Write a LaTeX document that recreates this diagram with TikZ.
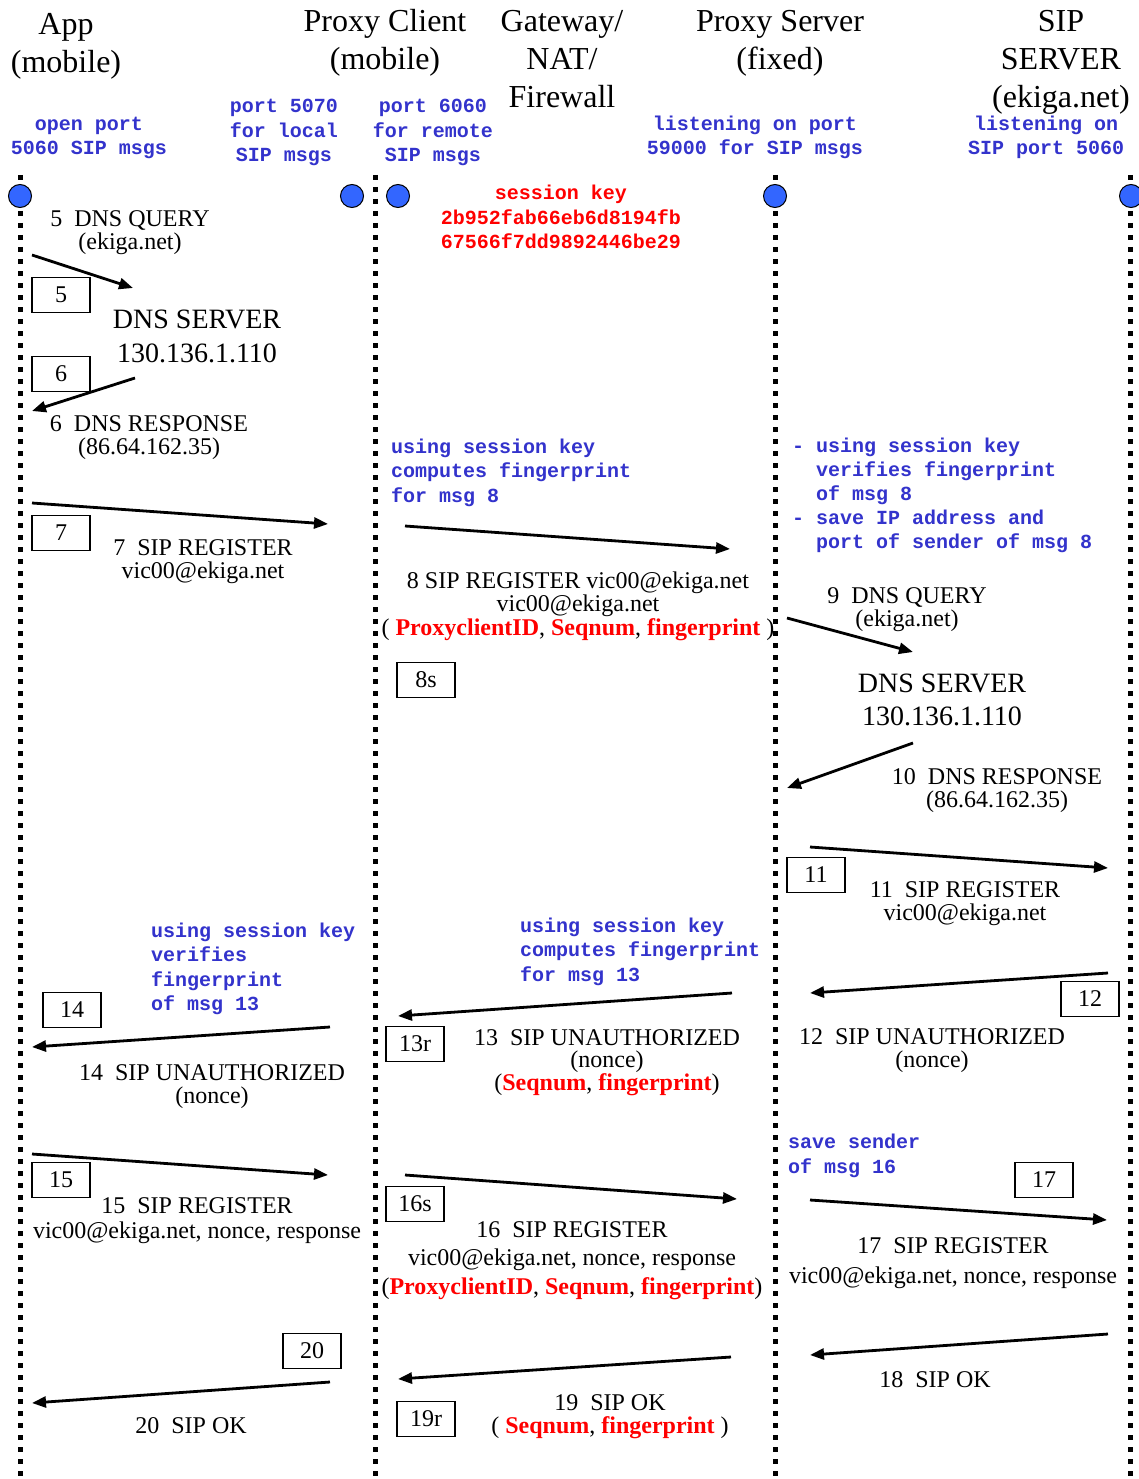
\documentclass[tikz,border=0pt]{standalone}
\usepackage{fontspec}
\setmainfont{Liberation Serif}
\setmonofont{Liberation Mono}
\usetikzlibrary{arrows.meta}
\definecolor{noteblue}{RGB}{51,51,204}
\definecolor{portblue}{RGB}{51,102,255}
\definecolor{keyred}{RGB}{255,0,0}
\newcommand{\rb}[1]{\textcolor{keyred}{\textbf{#1}}}
\newcommand{\ind}{\phantom{- }}
\begin{document}
\begin{tikzpicture}[x=1pt,y=-1pt,
  hdr/.style={font=\fontsize{32}{38}\selectfont, align=center, inner sep=0pt, anchor=base},
  msg/.style={font=\fontsize{24}{#1}\selectfont, align=center, inner sep=0pt, anchor=base},
  msg/.default=22.5,
  dnsbig/.style={font=\fontsize{28}{#1}\selectfont, align=center, inner sep=0pt, anchor=base},
  note/.style={font=\fontsize{20}{#1}\ttfamily\bfseries\selectfont, text=noteblue, align=left, inner sep=0pt, anchor=base west},
  note/.default=24.5,
  cnote/.style={font=\fontsize{20}{24.5}\ttfamily\bfseries\selectfont, text=noteblue, align=center, inner sep=0pt, anchor=base},
  keynote/.style={font=\fontsize{20}{24}\ttfamily\bfseries\selectfont, text=keyred, align=center, inner sep=0pt, anchor=base},
  life/.style={line width=5pt, dash pattern=on 5pt off 7pt},
  port/.style={circle, draw=black, line width=1pt, fill=portblue, minimum size=23pt, inner sep=0pt},
  nbox/.style={draw, line width=1.3pt, minimum width=58pt, minimum height=35pt, inner sep=0pt, font=\fontsize{24}{24}\selectfont},
  arr/.style={line width=2.8pt, -{Triangle[length=14pt, width=11pt]}}
]
\fill[white] (0,0) rectangle (1139,1479);
\useasboundingbox (0,0) rectangle (1139,1479);

% lifelines
\foreach \n/\x in {app/20, pc/375, ps/775, sip/1130} {
  \coordinate (\n top) at (\x,175);
  \coordinate (\n bot) at (\x,1479);
  \draw[life] (\n top) -- (\n bot);
}
% ports
\node[port] (portapp) at (20,196) {};
\node[port] (portpcl) at (352,196) {};
\node[port] (portpcr) at (398,196) {};
\node[port] (portps) at (775,196) {};
\node[port] (portsip) at (1131,196) {};

% headers (y = baseline of last line)
\node[hdr] (hApp) at (66,73) {App\\(mobile)};
\node[hdr] (hPC) at (385,70) {Proxy Client\\(mobile)};
\node[hdr] (hGW) at (562,108) {Gateway/\\NAT/\\Firewall};
\node[hdr] (hPS) at (780,70) {Proxy Server\\(fixed)};
\node[hdr] (hSIP) at (1061,108) {SIP\\SERVER\\(ekiga.net)};

% port notes
\node[cnote] (nOpen) at (89,155) {open port\\5060 SIP msgs};
\node[cnote] (n5070) at (284,162) {port 5070\\for local\\SIP msgs};
\node[cnote] (n6060) at (433,162) {port 6060\\for remote\\SIP msgs};
\node[cnote] (nListen) at (755,155) {listening on port\\59000 for SIP msgs};
\node[cnote] (nSipListen) at (1046,155) {listening on\\SIP port 5060};
\node[keynote] (nKey) at (561,248) {session key\\2b952fab66eb6d8194fb\\67566f7dd9892446be29};

% message labels
\node[msg=22.5] (m5) at (130,249) {5~ DNS QUERY\\(ekiga.net)};
\node[dnsbig=34] (dns1) at (197,362) {DNS SERVER\\130.136.1.110};
\node[msg=22.5] (m6) at (149,454) {6~ DNS RESPONSE\\(86.64.162.35)};
\node[msg=23] (m7) at (203,578) {7~ SIP REGISTER\\vic00@ekiga.net};
\node[note] (nComp8) at (391,502) {using session key\\computes fingerprint\\for msg 8};
\node[msg=23.5] (m8) at (578,635) {8 SIP REGISTER vic00@ekiga.net\\vic00@ekiga.net\\( \rb{ProxyclientID}, \rb{Seqnum}, \rb{fingerprint} )};
\node[note=24] (nVer8) at (792,548) {- using session key\\\ind verifies fingerprint\\\ind of msg 8\\- save IP address and\\\ind port of sender of msg 8};
\node[msg=22.5] (m9) at (907,626) {9~ DNS QUERY\\(ekiga.net)};
\node[dnsbig=33] (dns2) at (942,725) {DNS SERVER\\130.136.1.110};
\node[msg=23] (m10) at (997,807) {10~ DNS RESPONSE\\(86.64.162.35)};
\node[msg=23] (m11) at (965,920) {11~ SIP REGISTER\\vic00@ekiga.net};
\node[note] (nVer13) at (151,1010.5) {using session key\\verifies\\fingerprint\\of msg 13};
\node[note] (nComp13) at (520,981) {using session key\\computes fingerprint\\for msg 13};
\node[msg=23] (m12) at (932,1067) {12~ SIP UNAUTHORIZED\\(nonce)};
\node[msg=22.5] (m13) at (607,1090) {13~ SIP UNAUTHORIZED\\(nonce)\\(\rb{Seqnum}, \rb{fingerprint})};
\node[msg=22.5] (m14) at (212,1103) {14~ SIP UNAUTHORIZED\\(nonce)};
\node[note=25] (nSave16) at (788,1173) {save sender\\of msg 16};
\node[msg=25] (m15) at (197,1238) {15~ SIP REGISTER\\vic00@ekiga.net, nonce, response};
\node[msg=28.5] (m16) at (572,1294) {16~ SIP REGISTER\\vic00@ekiga.net, nonce, response\\(\rb{ProxyclientID}, \rb{Seqnum}, \rb{fingerprint})};
\node[msg=30] (m17) at (953,1283) {17~ SIP REGISTER\\vic00@ekiga.net, nonce, response};
\node[msg] (m18) at (935,1387) {18~ SIP OK};
\node[msg=22.5] (m19) at (610,1433) {19~ SIP OK\\( \rb{Seqnum}, \rb{fingerprint} )};
\node[msg] (m20) at (191,1433) {20~ SIP OK};

% numbered boxes
\node[nbox] (b5) at (61,295) {5};
\node[nbox] (b6) at (61,374) {6};
\node[nbox] (b7) at (61,533) {7};
\node[nbox] (b8s) at (426,680) {8s};
\node[nbox] (b11) at (816,875) {11};
\node[nbox] (b12) at (1090,999) {12};
\node[nbox] (b13r) at (415,1044) {13r};
\node[nbox] (b14) at (72,1010) {14};
\node[nbox] (b15) at (61,1180) {15};
\node[nbox] (b16s) at (415,1204) {16s};
\node[nbox] (b17) at (1044,1180) {17};
\node[nbox] (b20) at (312,1351) {20};
\node[nbox] (b19r) at (426,1419) {19r};

% arrows
\foreach \n/\xa/\ya/\xb/\yb in {
  5/32/255/133/288, 6/135/378/32/411, 7/32/503/328/524, 8/405/526/730/549,
  9/787/618/913/652, 10/913/743/787/788, 11/810/847/1108/868, 12/1108/973/810/993,
  13/732/993/398/1016, 14/330/1027/32/1047, 15/32/1154/328/1175, 16/405/1175/737/1199,
  17/810/1200/1107/1220, 18/1108/1334/810/1355, 19/731/1357/398/1379, 20/330/1382/32/1403} {
  \coordinate (s\n) at (\xa,\ya);
  \coordinate (e\n) at (\xb,\yb);
  \draw[arr] (s\n) -- (e\n);
}
\end{tikzpicture}
\end{document}
